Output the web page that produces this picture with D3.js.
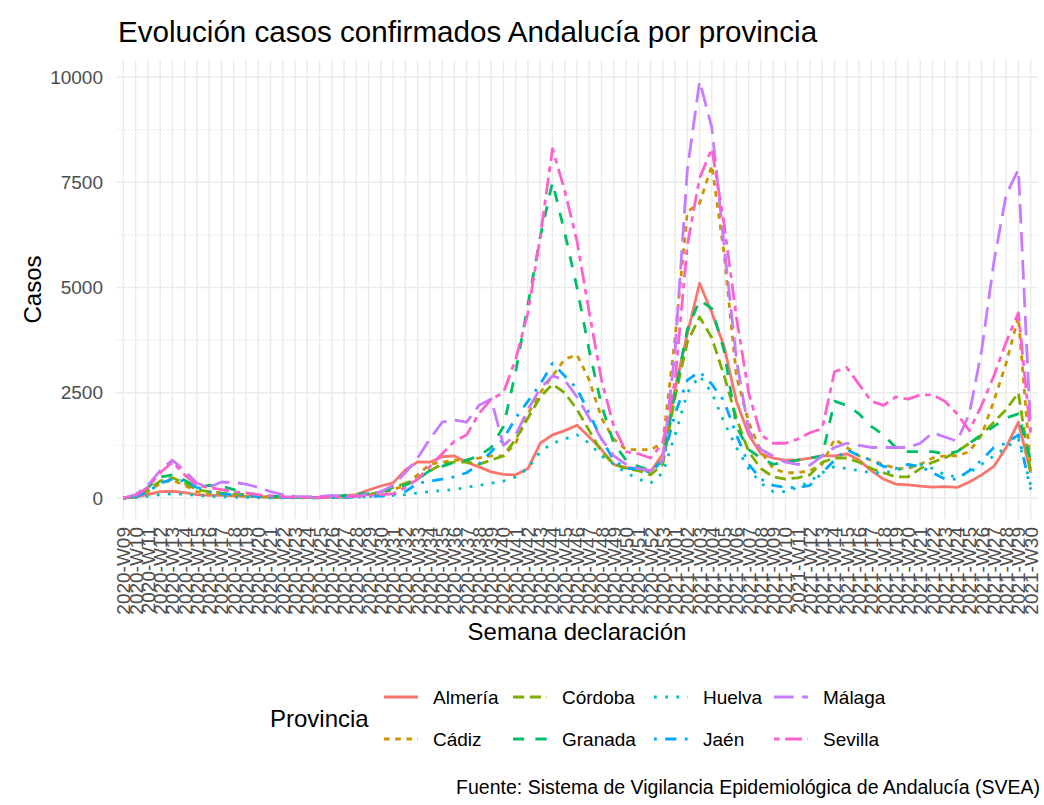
<!DOCTYPE html>
<html><head><meta charset="utf-8">
<script src="https://cdn.jsdelivr.net/npm/d3@7"></script>
<style>
body{margin:0;background:#fff}
svg{display:block}
text{font-family:"Liberation Sans",Arial,Helvetica,sans-serif}
</style>
</head><body>
<svg id="chart" width="1044" height="805"></svg>
<script>
// ---- categories ----
const weeks = [
"2020-W09","2020-W10","2020-W11","2020-W12","2020-W13","2020-W14","2020-W15","2020-W16","2020-W17","2020-W18",
"2020-W19","2020-W20","2020-W21","2020-W22","2020-W23","2020-W24","2020-W25","2020-W26","2020-W27","2020-W28",
"2020-W29","2020-W30","2020-W31","2020-W32","2020-W33","2020-W34","2020-W35","2020-W36","2020-W37","2020-W38",
"2020-W39","2020-W40","2020-W41","2020-W42","2020-W43","2020-W44","2020-W45","2020-W46","2020-W47","2020-W48",
"2020-W49","2020-W50","2020-W51","2020-W52","2020-W53","2021-W01","2021-W02","2021-W03","2021-W04","2021-W05",
"2021-W06","2021-W07","2021-W08","2021-W09","2021-W10","2021-W11","2021-W12","2021-W13","2021-W14","2021-W15",
"2021-W16","2021-W17","2021-W18","2021-W19","2021-W20","2021-W21","2021-W22","2021-W23","2021-W24","2021-W25",
"2021-W26","2021-W27","2021-W28","2021-W29","2021-W30"];
const provinces = ["Almería","Cádiz","Córdoba","Granada","Huelva","Jaén","Málaga","Sevilla"];
const colors = ["#F8766D","#CD9600","#7CAE00","#00BE67","#00BFC4","#00A9FF","#C77CFF","#FF61CC"];
const linetypes = ["solid","22","42","44","13","1343","73","2262"];
const yTicks = [0, 2500, 5000, 7500, 10000];
const yMinor = [1250, 3750, 6250, 8750];

// ---- series values (weekly cases) ----
const almeria = [0,20,80,150,160,130,80,60,60,50,40,30,20,
  10,10,10,20,30,50,80,190,285,360,
  665,860,850,980,1000,850,740,620,560,550,700,1300,1500,1600,1730,1450,1150,800,720,700,620,1050,
  2600,3900,5100,4400,3600,2300,1500,1050,950,900,900,950,1000,1000,1050,900,650,450,330,310,280,260,270,250,380,550,750,1200,1800,600];
const cadiz = [0,30,150,350,420,300,150,100,80,60,40,30,20,
  10,10,10,10,20,30,50,80,120,200,
  300,550,800,850,900,900,950,1000,1000,1300,2000,2500,2900,3300,3400,2800,1900,1400,1150,1150,1150,1300,
  3800,6800,7000,7900,5800,2900,1800,1100,700,600,600,650,800,1400,1200,1000,900,800,700,700,800,950,1000,1000,1100,1500,2300,3200,4300,700];
const cordoba = [0,30,200,400,480,350,200,150,120,100,80,50,30,
  10,10,10,10,20,30,50,80,150,250,
  350,450,650,800,850,850,800,900,1000,1400,1900,2400,2700,2500,2100,1600,1100,800,700,650,550,800,
  2400,3700,4300,3800,2900,1900,1100,700,500,450,480,550,850,950,950,850,700,600,500,500,700,850,950,1100,1300,1500,1800,2100,2500,600];
const granada = [0,40,250,500,550,420,250,300,280,200,120,80,50,
  30,20,10,10,20,60,100,100,150,220,
  300,450,650,750,850,900,1000,1200,1700,3000,4600,6200,7500,6300,5000,3500,2200,1300,900,750,650,900,
  2500,4000,4700,4500,3500,1700,1150,950,800,850,900,950,1000,2300,2200,2000,1700,1500,1200,1100,1100,1100,1050,1100,1300,1500,1700,1900,2000,900];
const huelva = [0,10,40,80,100,90,60,40,30,20,15,10,5,
  5,5,5,5,10,15,20,30,40,60,
  80,120,150,180,200,250,300,350,400,500,700,1100,1300,1400,1500,1300,1000,800,600,450,350,600,
  1500,2500,2900,2500,1800,1200,700,350,150,150,250,400,600,750,700,650,600,600,650,750,800,700,550,500,600,800,1000,1200,1400,300];
const jaen = [0,30,150,350,450,400,250,150,100,80,60,40,20,
  10,10,5,5,10,15,20,30,50,80,
  150,350,400,450,500,600,800,1100,1400,1900,2300,2700,3200,2900,2600,2000,1400,900,700,700,600,900,
  2000,2800,3000,2700,2300,1500,800,450,300,250,250,300,600,900,1150,1000,900,750,700,800,750,600,450,450,650,900,1200,1300,1500,200];
const malaga = [0,80,300,650,900,650,350,250,380,370,330,250,150,
  80,40,30,40,60,40,50,80,150,300,
  600,950,1400,1800,1850,1800,2200,2350,1250,1500,2100,2600,2900,2800,2400,1900,1400,1000,800,700,650,900,
  3500,7800,9900,8800,6000,3300,1600,1150,1000,850,800,780,1000,1200,1300,1250,1200,1200,1200,1200,1300,1550,1450,1350,2000,3500,5600,7200,7800,1600];
const sevilla = [0,60,250,600,850,550,300,250,200,150,120,80,50,
  30,20,10,10,20,30,40,60,80,100,
  250,450,750,1050,1350,1500,2000,2350,2500,3300,4400,6200,8300,7300,6100,4400,2800,1700,1100,1050,950,1300,
  2800,6000,7600,8300,6500,4300,2500,1500,1300,1300,1400,1550,1650,3000,3100,2700,2300,2200,2400,2350,2450,2450,2300,2000,1600,2200,2900,3700,4400,1500];
const seriesValues = [almeria, cadiz, cordoba, granada, huelva, jaen, malaga, sevilla];

// ---- layout ----
const svg = d3.select("#chart");
const W = 1044, H = 805;
const P = {left:116, right:1038, top:60, bottom:519};
const LW = 2.8;
const dashFor = lt => lt === "solid" ? null : lt.split("").map(c => (+c) * LW).join(",");
const FONT_AXIS = 19, FONT_TITLE_AX = 24;

svg.append("rect").attr("width", W).attr("height", H).attr("fill", "#fff");

const x = d3.scalePoint().domain(weeks).range([P.left, P.right]).padding(0.6);
const y = d3.scaleLinear().domain([0, 10000]).range([498, 77]);

const grid = svg.append("g");
grid.selectAll("line.ymin").data(yMinor).join("line")
  .attr("x1", P.left).attr("x2", P.right)
  .attr("y1", d => y(d)).attr("y2", d => y(d))
  .attr("stroke", "#F1F1F1").attr("stroke-width", 0.9);
grid.selectAll("line.ymaj").data(yTicks).join("line")
  .attr("x1", P.left).attr("x2", P.right)
  .attr("y1", d => y(d)).attr("y2", d => y(d))
  .attr("stroke", "#EBEBEB").attr("stroke-width", 1.5);
grid.selectAll("line.xmaj").data(weeks).join("line")
  .attr("x1", d => x(d)).attr("x2", d => x(d))
  .attr("y1", P.top).attr("y2", P.bottom)
  .attr("stroke", "#EBEBEB").attr("stroke-width", 1.5);

// y axis labels
const yAxis = svg.append("g").attr("transform", `translate(${P.left - 13},0)`)
  .call(d3.axisLeft(y).tickValues(yTicks).tickSize(0).tickPadding(0).tickFormat(d3.format("d")));
yAxis.select(".domain").remove();
yAxis.selectAll("text").attr("font-size", FONT_AXIS).attr("fill", "#4D4D4D")
  .attr("font-family", "Liberation Sans, Arial, sans-serif");

// x axis labels (rotated)
const xAxis = svg.append("g").attr("transform", `translate(0,${P.bottom + 8})`)
  .call(d3.axisBottom(x).tickSize(0).tickPadding(0));
xAxis.select(".domain").remove();
xAxis.selectAll("text")
  .attr("font-size", FONT_AXIS).attr("fill", "#4D4D4D")
  .attr("font-family", "Liberation Sans, Arial, sans-serif")
  .attr("text-anchor", "end")
  .attr("dy", null).attr("y", 0).attr("x", 0)
  .attr("dominant-baseline", "central")
  .attr("transform", "rotate(-90)");

// lines
const line = d3.line().x((d, i) => x(weeks[i])).y(d => y(d));
const lines = svg.append("g");
provinces.forEach((p, k) => {
  lines.append("path").datum(seriesValues[k])
    .attr("d", line)
    .attr("fill", "none")
    .attr("stroke", colors[k])
    .attr("stroke-width", LW)
    .attr("stroke-dasharray", dashFor(linetypes[k]))
    .attr("stroke-linecap", "butt")
    .attr("stroke-linejoin", "round");
});

// titles
svg.append("text").attr("x", 118).attr("y", 42)
  .attr("font-size", 29.6).attr("fill", "#000")
  .text("Evolución casos confirmados Andalucía por provincia");
svg.append("text")
  .attr("transform", `translate(41,${(P.top + P.bottom) / 2}) rotate(-90)`)
  .attr("text-anchor", "middle").attr("font-size", FONT_TITLE_AX).attr("fill", "#000")
  .text("Casos");
svg.append("text").attr("x", (P.left + P.right) / 2).attr("y", 640)
  .attr("text-anchor", "middle").attr("font-size", FONT_TITLE_AX).attr("fill", "#000")
  .text("Semana declaración");
svg.append("text").attr("x", 1040).attr("y", 794)
  .attr("text-anchor", "end").attr("font-size", 19.5).attr("fill", "#000")
  .text("Fuente: Sistema de Vigilancia Epidemiológica de Andalucía (SVEA)");

// legend
const legend = svg.append("g");
legend.append("text").attr("x", 270).attr("y", 718)
  .attr("dominant-baseline", "central").attr("font-size", FONT_TITLE_AX).attr("fill", "#000")
  .text("Provincia");
const labelX = [433, 562, 703, 823];
const rowY = [697, 739];
provinces.forEach((p, k) => {
  const col = Math.floor(k / 2), row = k % 2;
  const lx = labelX[col], ly = rowY[row];
  legend.append("line")
    .attr("x1", lx - 49).attr("x2", lx - 15).attr("y1", ly).attr("y2", ly)
    .attr("stroke", colors[k]).attr("stroke-width", LW)
    .attr("stroke-dasharray", dashFor(linetypes[k]))
    .attr("stroke-linecap", "butt");
  legend.append("text").attr("x", lx).attr("y", ly)
    .attr("dominant-baseline", "central").attr("font-size", FONT_AXIS).attr("fill", "#000")
    .text(p);
});
</script>
</body></html>
